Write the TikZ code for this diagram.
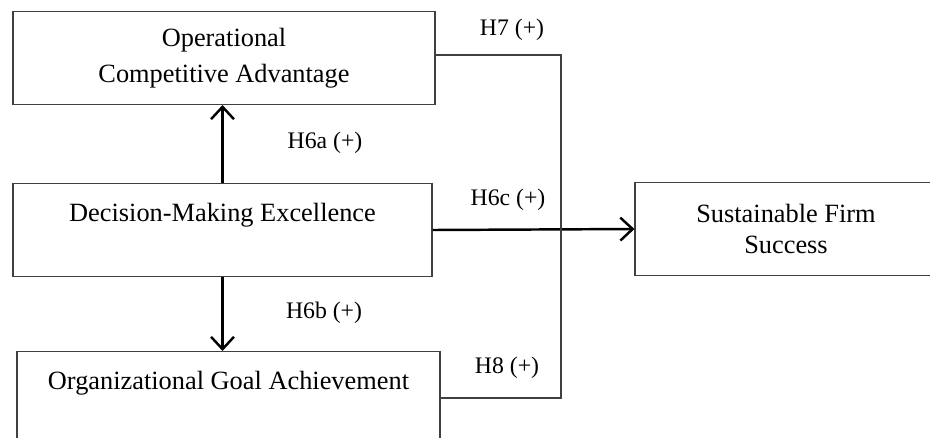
\documentclass[tikz,border=0pt]{standalone}
\usepackage{fontspec}
\setmainfont{Liberation Serif}
\usetikzlibrary{arrows.meta, positioning}

\begin{document}
\begin{tikzpicture}[
  construct/.style={draw=black!75, line width=0.6pt, minimum width=#1, minimum height=1.86cm,
      align=center, inner sep=0pt, font=\fontsize{15}{20.5}\selectfont},
  hyp/.style={font=\fontsize{13.5}{16}\selectfont},
  effect/.style={line width=1.4pt, -{Straight Barb[length=7pt,width=13pt]}},
  link/.style={draw=black!75, line width=0.7pt}]
% Research model: decision-making excellence and its outcomes
\clip (0,0) rectangle (18.6,-8.74);
\node[construct=8.44cm] (oca) at (4.48,-1.16) {Operational\\Competitive Advantage};
\node[construct=8.38cm] (dme) at (4.45,-4.6) {Decision-Making Excellence\\ \mbox{}};
\node[construct=8.46cm] (oga) at (4.57,-7.96) {Organizational Goal Achievement\\ \mbox{}};
\node[construct=6.04cm] (sfs) at (15.72,-4.58) {Sustainable Firm\\[-3pt]Success};

\coordinate (c7) at (11.22,-1.1);
\coordinate (c8) at (11.22,-7.96);

\draw[effect] (dme.north) -- (dme.north |- oca.south);
\draw[effect] (dme.south) -- (dme.south |- oga.north);
\draw[effect] (dme.east) -- (sfs.west);
\draw[link] (oca.east |- c7) -- (c7) -- (c8) -- (oga.east);

\node[hyp] (h7) at (10.24,-0.6) {H7 (+)};
\node[hyp] (h6a) at (6.5,-2.86) {H6a (+)};
\node[hyp] (h6c) at (10.16,-4.0) {H6c (+)};
\node[hyp] (h6b) at (6.48,-6.26) {H6b (+)};
\node[hyp] (h8) at (10.14,-7.36) {H8 (+)};
\end{tikzpicture}
\end{document}
